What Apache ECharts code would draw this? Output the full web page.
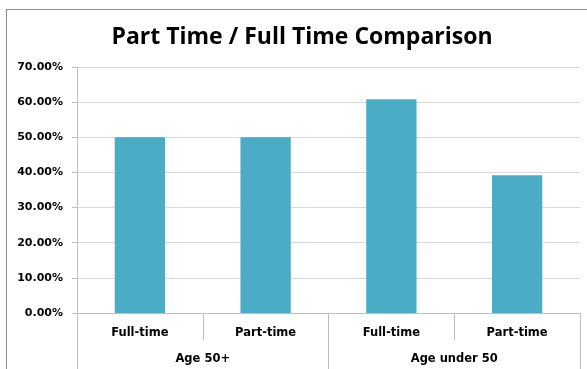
<!DOCTYPE html>
<html>
<head>
<meta charset="utf-8">
<script src="https://cdn.jsdelivr.net/npm/echarts@6/dist/echarts.min.js"></script>
<style>
html,body{margin:0;padding:0;background:#fff;}
#c{width:587px;height:369px;}
</style>
</head>
<body>
<div id="c"></div>
<script>
var titleText = 'Part Time / Full Time Comparison';
var subCategories = ['Full-time', 'Part-time', 'Full-time', 'Part-time'];
var groups = ['Age 50+', 'Age under 50'];
var values = [50.0, 50.0, 60.8, 39.2];
var yTicks = [0, 10, 20, 30, 40, 50, 60, 70];

var chart = echarts.init(document.getElementById('c'), null, {renderer: 'canvas'});
var labelFont = {fontFamily: 'DejaVu Sans', fontWeight: 'bold', fontSize: 11.5, color: '#000'};
chart.setOption({
  animation: false,
  backgroundColor: '#fff',
  title: {
    text: titleText,
    left: 297,
    top: 21,
    textAlign: 'center',
    textStyle: {fontFamily: 'Open Sans', fontWeight: 'bold', fontSize: 23, color: '#000'}
  },
  graphic: [
    {type: 'line', shape: {x1: 6, y1: 9.5, x2: 587, y2: 9.5}, style: {stroke: '#8c8c8c', lineWidth: 1}},
    {type: 'line', shape: {x1: 6.5, y1: 9, x2: 6.5, y2: 369}, style: {stroke: '#8c8c8c', lineWidth: 1}}
  ],
  grid: {left: 77, right: 7, top: 67, bottom: 56, containLabel: false},
  xAxis: [
    {
      type: 'category',
      data: subCategories,
      position: 'bottom',
      axisLine: {show: true, lineStyle: {color: '#bfbfbf', width: 1}},
      axisTick: {show: true, interval: 0, length: 27, alignWithLabel: false, lineStyle: {color: '#bfbfbf'}},
      axisLabel: Object.assign({margin: 14, interval: 0}, labelFont),
      splitLine: {show: false}
    },
    {
      type: 'category',
      data: groups,
      position: 'bottom',
      axisLine: {show: false},
      axisTick: {show: true, interval: 0, length: 60, alignWithLabel: false, lineStyle: {color: '#bfbfbf'}},
      axisLabel: Object.assign({margin: 40, interval: 0}, labelFont),
      splitLine: {show: false}
    }
  ],
  yAxis: {
    type: 'value',
    min: yTicks[0],
    max: yTicks[yTicks.length - 1],
    interval: 10,
    axisLine: {show: true, lineStyle: {color: '#bfbfbf', width: 1}},
    axisTick: {show: true, length: 5, lineStyle: {color: '#bfbfbf'}},
    axisLabel: Object.assign({margin: 14, formatter: function (v) { return v.toFixed(2) + '%'; }}, labelFont, {fontSize: 11}),
    splitLine: {show: true, lineStyle: {color: '#d9d9d9', width: 1}}
  },
  series: [{
    type: 'bar',
    xAxisIndex: 0,
    data: values,
    barWidth: '40%',
    itemStyle: {color: '#4BACC6'}
  }]
});
</script>
</body>
</html>
